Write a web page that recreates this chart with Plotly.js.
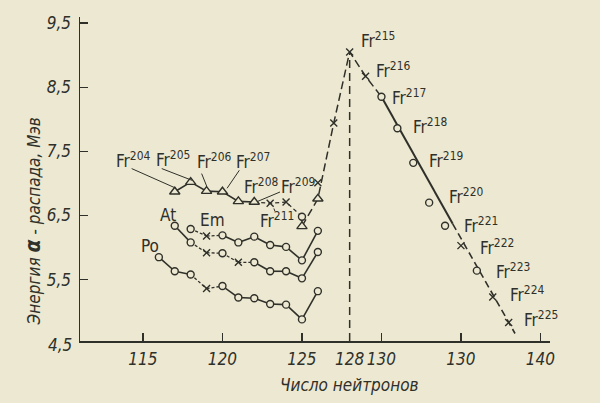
<!DOCTYPE html>
<html><head><meta charset="utf-8">
<script src="https://cdn.plot.ly/plotly-3.0.1.min.js"></script>
<style>html,body{margin:0;padding:0;background:#ede8d2}</style>
</head><body><div id="chart" style="width:600px;height:403px"></div>
<script>
// ---- data: neutron number vs alpha-decay energy (MeV) ----
const poN = [116,117,118,119,120,121,122,123,124,125,126];
const poE = [5.85,5.63,5.58,5.36,5.40,5.22,5.21,5.12,5.11,4.88,5.32];
const poSym = ['o','o','o','x','o','o','o','o','o','o','o'];

const atN = [117,118,119,120,121,122,123,124,125,126];
const atE = [6.34,6.08,5.92,5.91,5.77,5.77,5.63,5.63,5.52,5.93];
const atSym = ['o','o','x','o','x','o','o','o','o','o'];

const emN = [118,119,120,121,122,123,124,125,126];
const emE = [6.29,6.18,6.19,6.08,6.17,6.04,6.01,5.80,6.26];
const emSym = ['o','x','o','o','o','o','o','o','o'];

const frN = [117,118,119,120,121,122,123,124,125,125,126,127,128,129,130,131,132,133,134,135,136,137,138];
const frE = [6.87,7.02,6.88,6.87,6.72,6.71,6.69,6.71,6.48,6.33,6.76,7.94,9.05,8.67,8.35,7.86,7.32,6.70,6.34,6.03,5.64,5.23,4.83];
const frSym = ['t','t','t','t','t','t','x','x','o','t','t','x','x','x','o','o','o','o','o','x','o','x','x'];

const extraN = [126];
const extraE = [7.01];

// straight line drawn through the heavy Fr isotopes
const frFitN = [130, 134.48, 138.4];
const frFitE = [8.35, 6.37, 4.66];

const xTickVals = [115,120,125,128,130,135,140];
const xTickText = ['115','120','125','128','130','130','140'];
const yTickVals = [5.5,6.5,7.5,8.5,9.5];
const yTickText = ['5,5','6,5','7,5','8,5','9,5'];

// ---- styling ----
const INK = '#2f3029';
const BG = '#ede8d2';
const FONT = '"Liberation Sans Narrow", "DejaVu Sans Condensed", "Liberation Sans", sans-serif';
const X_RANGE = [111.04, 140.6];
const Y_RANGE = [4.543, 9.594];

function split(n, e, sym) {
  const s = {x: [], y: []}, d = {x: [], y: []};
  for (let i = 0; i < n.length - 1; i++) {
    const t = (sym[i] === 'x' || sym[i + 1] === 'x') ? d : s;
    t.x.push(n[i], n[i + 1], null);
    t.y.push(e[i], e[i + 1], null);
  }
  return {s, d};
}
function pick(n, e, sym, c) {
  const x = [], y = [];
  sym.forEach((v, i) => { if (v === c) { x.push(n[i]); y.push(e[i]); } });
  return {x, y};
}
function lineTrace(x, y, dash, w) {
  return {x, y, mode: 'lines', type: 'scatter', hoverinfo: 'skip',
    line: {color: INK, width: w || 1.5, dash: dash || 'solid'}, connectgaps: false};
}
function markerTraces(n, e, sym) {
  const out = [];
  const o = pick(n, e, sym, 'o');
  const t = pick(n, e, sym, 't');
  const x = pick(n, e, sym, 'x');
  if (o.x.length) out.push({x: o.x, y: o.y, mode: 'markers', type: 'scatter', hoverinfo: 'skip',
    marker: {symbol: 'circle', size: 7, color: BG, line: {color: INK, width: 1.4}}});
  if (t.x.length) out.push({x: t.x, y: t.y, mode: 'markers', type: 'scatter', hoverinfo: 'skip',
    marker: {symbol: 'triangle-up', size: 9, color: BG, line: {color: INK, width: 1.4}}});
  if (x.x.length) out.push({x: x.x, y: x.y, mode: 'markers', type: 'scatter', hoverinfo: 'skip',
    marker: {symbol: 'x-thin', size: 7, color: INK, line: {color: INK, width: 1.4}}});
  return out;
}

const traces = [];
// vertical dashed line at the magic number
traces.push(lineTrace([frN[12], frN[12]], [Y_RANGE[0], frE[12]], '8px,5px', 1.5));

[[poN, poE, poSym], [atN, atE, atSym], [emN, emE, emSym]].forEach(([n, e, s]) => {
  const p = split(n, e, s);
  traces.push(lineTrace(p.s.x, p.s.y, 'solid', 1.6));
  traces.push(lineTrace(p.d.x, p.d.y, '3px,2px', 1.3));
});

// Fr chain
traces.push(lineTrace(frN.slice(0, 6), frE.slice(0, 6), 'solid', 1.6));
traces.push(lineTrace(frN.slice(5, 10), frE.slice(5, 10), '4px,3px', 1.3));
traces.push(lineTrace(frN.slice(9, 15), frE.slice(9, 15), '8px,4px', 1.5));
traces.push(lineTrace(frFitN.slice(0, 2), frFitE.slice(0, 2), 'solid', 2));
traces.push(lineTrace(frFitN.slice(1, 3), frFitE.slice(1, 3), '7px,4px', 1.6));

[[poN, poE, poSym], [atN, atE, atSym], [emN, emE, emSym], [frN, frE, frSym]].forEach(([n, e, s]) => {
  markerTraces(n, e, s).forEach(t => traces.push(t));
});
traces.push({x: extraN, y: extraE, mode: 'markers', type: 'scatter', hoverinfo: 'skip',
  marker: {symbol: 'x-thin', size: 7, color: INK, line: {color: INK, width: 1.4}}});

// labels
const frLabels = [
  ['204', 114.37, 7.36], ['205', 116.89, 7.376], ['206', 119.47, 7.345], ['207', 121.92, 7.345],
  ['208', 122.42, 6.955], ['209', 124.75, 6.955], ['211', 123.43, 6.425],
  ['215', 129.78, 9.231], ['216', 130.73, 8.763], ['217', 131.73, 8.342], ['218', 133.05, 7.89],
  ['219', 134.06, 7.36], ['220', 135.32, 6.799], ['221', 136.26, 6.347], ['222', 137.27, 6.004],
  ['223', 138.27, 5.63], ['224', 139.15, 5.271], ['225', 140.03, 4.882]
];
const annotations = frLabels.map(([m, x, y]) => ({
  x, y, xref: 'x', yref: 'y', showarrow: false, xanchor: 'center', yanchor: 'middle',
  text: 'Fr<sup>' + m + '</sup>', font: {family: FONT, size: 17, color: INK}
}));
[['At', 116.57, 6.503], ['Em', 119.40, 6.425], ['Po', 115.44, 6.02]].forEach(([t, x, y]) => {
  annotations.push({x, y, xref: 'x', yref: 'y', showarrow: false, text: t,
    font: {family: FONT, size: 17, color: INK}});
});
annotations.push({xref: 'paper', yref: 'paper', x: -0.013, y: -0.013, xanchor: 'right', yanchor: 'middle',
  showarrow: false, text: '4,5', font: {family: FONT, size: 17, color: INK, style: 'italic'}});
annotations.push({xref: 'paper', yref: 'paper', x: 0.574, y: -0.137, xanchor: 'center', yanchor: 'middle',
  showarrow: false, text: 'Число нейтронов', font: {family: FONT, size: 17, color: INK, style: 'italic'}});
annotations.push({xref: 'paper', yref: 'paper', x: -0.098, y: 0.369, xanchor: 'center', yanchor: 'middle',
  textangle: -90, showarrow: false,
  text: 'Энергия <b><span style="font-size:21px">α</span></b> - распада, Мэв',
  font: {family: FONT, size: 17, color: INK, style: 'italic'}});

// leader lines
const leaders = [
  [114.29, 7.231, 117.08, 6.924, 'solid'],
  [116.18, 7.231, 118.08, 7.048, 'solid'],
  [118.69, 7.153, 119.01, 6.955, 'solid'],
  [121.06, 7.204, 120.29, 6.924, 'solid'],
  [123.62, 6.866, 122.23, 6.721, 'solid'],
  [123.30, 6.565, 123.16, 6.659, 'dot']
];
const shapes = leaders.map(([x0, y0, x1, y1, d]) => ({
  type: 'line', xref: 'x', yref: 'y', x0, y0, x1, y1,
  line: {color: INK, width: 1, dash: d}
}));

const layout = {
  width: 600, height: 403,
  margin: {l: 80, r: 50, t: 17, b: 62, pad: 0},
  paper_bgcolor: BG, plot_bgcolor: BG,
  showlegend: false,
  xaxis: {range: X_RANGE, tickvals: xTickVals, ticktext: xTickText, ticks: 'inside', ticklen: 8,
    tickwidth: 1.3, tickcolor: INK, showline: true, linecolor: INK, linewidth: 1.5,
    showgrid: false, zeroline: false, ticklabelstandoff: 2,
    tickfont: {family: FONT, size: 17, color: INK, style: 'italic'}},
  yaxis: {range: Y_RANGE, tickvals: yTickVals, ticktext: yTickText, ticks: 'inside', ticklen: 8,
    tickwidth: 1.3, tickcolor: INK, showline: true, linecolor: INK, linewidth: 1.5,
    showgrid: false, zeroline: false, ticklabelstandoff: 4,
    tickfont: {family: FONT, size: 17, color: INK, style: 'italic'}},
  annotations, shapes
};
Plotly.newPlot('chart', traces, layout, {staticPlot: true, displayModeBar: false});
</script></body></html>
